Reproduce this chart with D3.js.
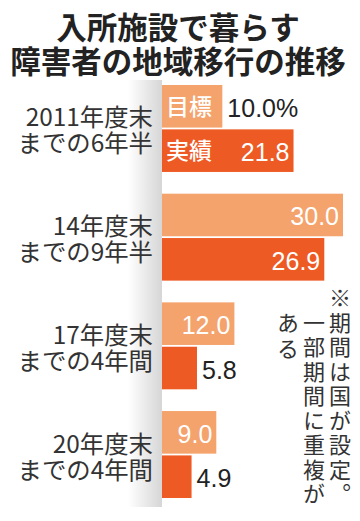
<!DOCTYPE html>
<html><head><meta charset="utf-8">
<script src="https://cdn.jsdelivr.net/npm/d3@7/dist/d3.min.js"></script>
<style>
html,body{margin:0;padding:0;background:#fff;}
svg{display:block;}
</style></head>
<body>
<script>
const titleLines = ["入所施設で暮らす", "障害者の地域移行の推移"];
const categories = ["2011年度末\nまでの6年半", "14年度末\nまでの9年半", "17年度末\nまでの4年間", "20年度末\nまでの4年間"];
const series = ["目標", "実績"];
const targetValues = [10.0, 30.0, 12.0, 9.0];
const actualValues = [21.8, 26.9, 5.8, 4.9];
const noteColumns = ["※期間は国が設定。", "一部期間に重複が", "ある"];

const W = 360, H = 521;
const colors = {"目標": "#F4A36C", "実績": "#EE5A24"};
const font = "'Noto Sans CJK JP', 'Noto Sans', sans-serif";
const numFont = "'Liberation Sans', Arial, sans-serif";

const svg = d3.select("body").append("svg").attr("width", W).attr("height", H);

const x = d3.scaleLinear().domain([0, 30]).range([162, 343]);
const y = d3.scaleBand().domain(categories).range([85, 498]).paddingInner(0.2);
const ys = d3.scaleBand().domain(series).range([0, y.bandwidth()]).paddingInner(0.04);

// gradient shadow left of the bars
const defs = svg.append("defs");
const grad = defs.append("linearGradient").attr("id", "shade").attr("x1", 0).attr("x2", 1).attr("y1", 0).attr("y2", 0);
grad.append("stop").attr("offset", "0%").attr("stop-color", "#ffffff");
grad.append("stop").attr("offset", "100%").attr("stop-color", "#d6d6d6");
svg.append("rect").attr("x", x(0) - 34).attr("y", y.range()[0] - 5).attr("width", 34)
  .attr("height", y.range()[1] - y.range()[0] + 14).attr("fill", "url(#shade)");

// title
svg.append("g").selectAll("text").data(titleLines).join("text")
  .attr("x", 178).attr("y", (d, i) => 39 + i * 34)
  .attr("text-anchor", "middle").attr("font-family", font).attr("font-weight", 700)
  .attr("font-size", 30.5).attr("fill", "#222").text(d => d);

const data = categories.map((c, i) => ({cat: c, vals: [
  {s: "目標", v: targetValues[i], i}, {s: "実績", v: actualValues[i], i}]}));

const groups = svg.append("g").selectAll("g").data(data).join("g")
  .attr("transform", d => `translate(0,${y(d.cat)})`);

// category labels
groups.append("text").attr("font-family", font).attr("font-size", 24.4).attr("fill", "#333")
  .attr("text-anchor", "end")
  .selectAll("tspan").data(d => d.cat.split("\n")).join("tspan")
  .attr("x", 153).attr("y", (d, i) => y.bandwidth() / 2 - 2 + i * 26).text(d => d);

const bars = groups.selectAll("g.bar").data(d => d.vals).join("g").attr("class", "bar");
bars.append("rect")
  .attr("x", x(0)).attr("y", d => ys(d.s))
  .attr("width", d => x(d.v) - x(0)).attr("height", ys.bandwidth())
  .attr("fill", d => colors[d.s]);

// series labels in first group
bars.filter(d => d.i === 0).append("text")
  .attr("x", x(0) + 4).attr("y", d => ys(d.s) + ys.bandwidth() / 2 + 8.5)
  .attr("font-family", font).attr("font-size", 23).attr("font-weight", 500)
  .attr("fill", "#fff").text(d => d.s);

// value labels
bars.append("text")
  .each(function(d) {
    const w = x(d.v) - x(0);
    const first = d.i === 0 && d.s === "目標";
    const inside = !first && w > 45;
    const t = d3.select(this);
    t.attr("x", inside ? x(d.v) - 4 : x(d.v) + 5)
     .attr("text-anchor", inside ? "end" : "start")
     .attr("fill", inside ? "#fff" : "#222")
     .text(first ? d.v.toFixed(1) + "%" : d.v.toFixed(1));
  })
  .attr("y", d => ys(d.s) + ys.bandwidth() / 2 + 10.5)
  .attr("font-family", numFont).attr("font-size", 25);

// note (vertical columns)
const step = 24.2, noteFs = 22;
svg.append("g").selectAll("text").data(noteColumns).join("text")
  .attr("x", (d, i) => 340 - i * 26)
  .attr("y", (d, i) => 287 + (i === 0 ? 0 : step))
  .attr("font-family", font).attr("font-size", noteFs).attr("fill", "#333")
  .style("writing-mode", "vertical-rl")
  .attr("textLength", d => Array.from(d).length * step)
  .attr("lengthAdjust", "spacing")
  .text(d => d);
</script>
</body></html>
